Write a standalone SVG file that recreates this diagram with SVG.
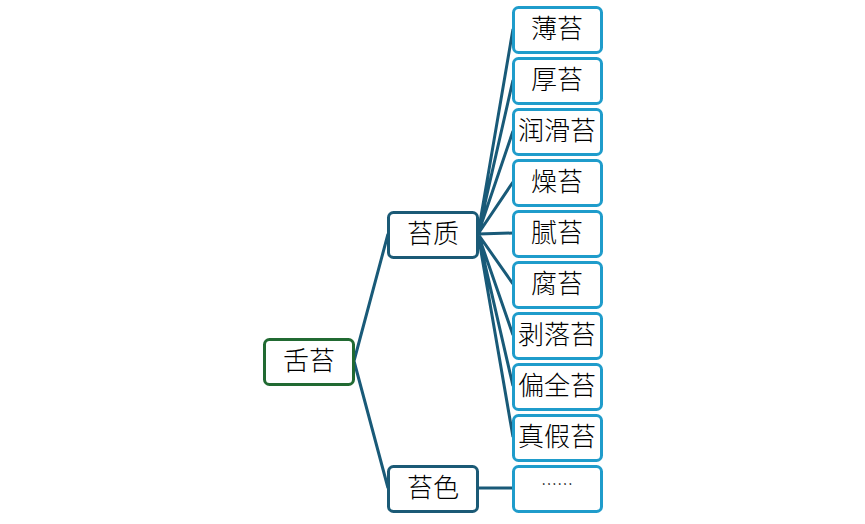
<svg xmlns="http://www.w3.org/2000/svg" width="865" height="524" viewBox="0 0 865 524">
<style>
.box{fill:#fff;stroke-width:3}
.root{stroke:#216a32}
.mid{stroke:#1b5a76}
.leaf{stroke:#1f9ccb}
text{font-family:"Noto Sans CJK SC","Noto Sans",sans-serif;font-size:26px;font-weight:300;fill:#000;text-anchor:middle;dominant-baseline:central}
.c{stroke:#195a78;stroke-width:3;fill:none}
</style>
<rect width="865" height="524" fill="#fff"/>
<g id="connectors">
<path class="c" d="M354 361L388 234M354 361L388 488M478 488L513 488"/>
<path class="c" d="M478 234L513 29M478 234L513 80M478 234L513 131M478 234L513 182M478 234L513 233M478 234L513 284M478 234L513 335M478 234L513 386M478 234L513 437"/>
</g>
<g id="n-root"><rect class="box root" x="264.5" y="339.5" width="89" height="45" rx="5"/><text x="309" y="358">舌苔</text></g>
<g id="n-taizhi"><rect class="box mid" x="388.5" y="212.5" width="89" height="45" rx="5"/><text x="433" y="231">苔质</text></g>
<g id="n-taise"><rect class="box mid" x="388.5" y="466.5" width="89" height="45" rx="5"/><text x="433" y="485">苔色</text></g>
<g id="n-1"><rect class="box leaf" x="513.5" y="7.5" width="88" height="45" rx="5"/><text x="557" y="26">薄苔</text></g>
<g id="n-2"><rect class="box leaf" x="513.5" y="58.5" width="88" height="45" rx="5"/><text x="557" y="77">厚苔</text></g>
<g id="n-3"><rect class="box leaf" x="513.5" y="109.5" width="88" height="45" rx="5"/><text x="557" y="128">润滑苔</text></g>
<g id="n-4"><rect class="box leaf" x="513.5" y="160.5" width="88" height="45" rx="5"/><text x="557" y="179">燥苔</text></g>
<g id="n-5"><rect class="box leaf" x="513.5" y="211.5" width="88" height="45" rx="5"/><text x="557" y="230">腻苔</text></g>
<g id="n-6"><rect class="box leaf" x="513.5" y="262.5" width="88" height="45" rx="5"/><text x="557" y="281">腐苔</text></g>
<g id="n-7"><rect class="box leaf" x="513.5" y="313.5" width="88" height="45" rx="5"/><text x="557" y="332">剥落苔</text></g>
<g id="n-8"><rect class="box leaf" x="513.5" y="364.5" width="88" height="45" rx="5"/><text x="557" y="383">偏全苔</text></g>
<g id="n-9"><rect class="box leaf" x="513.5" y="415.5" width="88" height="45" rx="5"/><text x="557" y="434">真假苔</text></g>
<g id="n-10"><rect class="box leaf" x="513.5" y="466.5" width="88" height="45" rx="5"/><text x="557" y="483" style="font-size:16px">……</text></g>
</svg>
